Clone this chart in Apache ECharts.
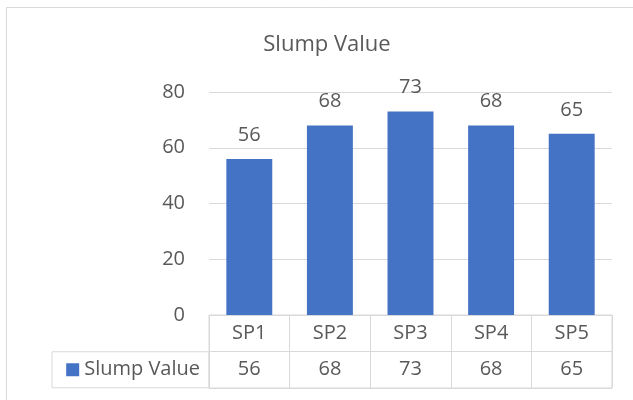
<!DOCTYPE html>
<html>
<head>
<meta charset="utf-8">
<script src="https://cdn.jsdelivr.net/npm/echarts@6/dist/echarts.min.js"></script>
<style>
  html, body { margin: 0; padding: 0; background: #fff; }
  #chart { width: 633px; height: 400px; }
</style>
</head>
<body>
<div id="chart"></div>
<script>
// data
var categories = ["SP1", "SP2", "SP3", "SP4", "SP5"];
var slumpValues = [56, 68, 73, 68, 65];
var seriesName = "Slump Value";
var yTicks = [0, 20, 40, 60, 80];

var textColor = "#595959";
var lineColor = "#d9d9d9";
var barColor = "#4472C4";
var font = "'Open Sans', sans-serif";

// 表格里的文字：第0行是类别，第1行是数值
var tableCells = [];
categories.forEach(function (c, i) {
  tableCells.push([i, 0, c]);
  tableCells.push([i, 1, String(slumpValues[i])]);
});

var myChart = echarts.init(document.getElementById("chart"));
var option = {
  animation: false,
  title: {
    text: seriesName,
    left: 322,
    top: 29,
    textAlign: "center",
    textStyle: { color: textColor, fontSize: 22, fontWeight: "normal", fontFamily: font }
  },
  graphic: [
    {
      type: "rect",
      shape: { x: 6.5, y: 7.5, width: 700, height: 500 },
      style: { fill: "none", stroke: lineColor, lineWidth: 1 },
      silent: true
    }
  ],
  grid: [
    { left: 209, right: 21, top: 92, bottom: 85 },
    { left: 209, right: 21, top: 315, height: 73, show: true, borderColor: lineColor, borderWidth: 1 }
  ],
  xAxis: [
    {
      type: "category",
      gridIndex: 0,
      data: categories,
      axisLine: { lineStyle: { color: lineColor } },
      axisTick: { show: false },
      axisLabel: { show: false }
    },
    {
      type: "category",
      gridIndex: 1,
      data: categories,
      axisLine: { show: false },
      axisTick: { show: false },
      axisLabel: { show: false },
      splitLine: { show: true, lineStyle: { color: lineColor } }
    }
  ],
  yAxis: [
    {
      type: "value",
      gridIndex: 0,
      min: yTicks[0],
      max: yTicks[yTicks.length - 1],
      interval: 20,
      axisLine: { show: false },
      axisTick: { show: false },
      axisLabel: { color: textColor, fontSize: 20, fontFamily: font, margin: 24 },
      splitLine: { lineStyle: { color: lineColor } }
    },
    {
      type: "category",
      gridIndex: 1,
      inverse: true,
      data: ["", seriesName],
      axisLine: { show: false },
      axisTick: { show: false },
      splitLine: { show: true, lineStyle: { color: lineColor } },
      axisLabel: {
        margin: 0,
        formatter: function (v) {
          return v ? "{icon|}{name|" + v + "}" : "";
        },
        width: 138,
        height: 36,
        lineHeight: 36,
        borderColor: lineColor,
        borderWidth: 1,
        align: "right",
        verticalAlign: "middle",
        padding: [0, 9, 0, 10],
        rich: {
          icon: { width: 13, height: 13, backgroundColor: barColor },
          name: { color: textColor, fontSize: 20, fontFamily: font, lineHeight: 36, padding: [0, 0, 0, 5] }
        }
      }
    }
  ],
  series: [
    {
      name: seriesName,
      type: "bar",
      xAxisIndex: 0,
      yAxisIndex: 0,
      data: slumpValues,
      barWidth: "57%",
      itemStyle: { color: barColor },
      label: {
        show: true,
        position: "top",
        distance: 14,
        color: textColor,
        fontSize: 20,
        fontFamily: font
      }
    },
    {
      type: "custom",
      xAxisIndex: 1,
      yAxisIndex: 1,
      data: tableCells,
      renderItem: function (params, api) {
        var pt = api.coord([api.value(0), api.value(1)]);
        return {
          type: "text",
          x: pt[0],
          y: pt[1],
          style: {
            text: tableCells[params.dataIndex][2],
            fill: textColor,
            font: "20px " + font,
            align: "center",
            verticalAlign: "middle"
          }
        };
      }
    }
  ]
};
myChart.setOption(option);
</script>
</body>
</html>
